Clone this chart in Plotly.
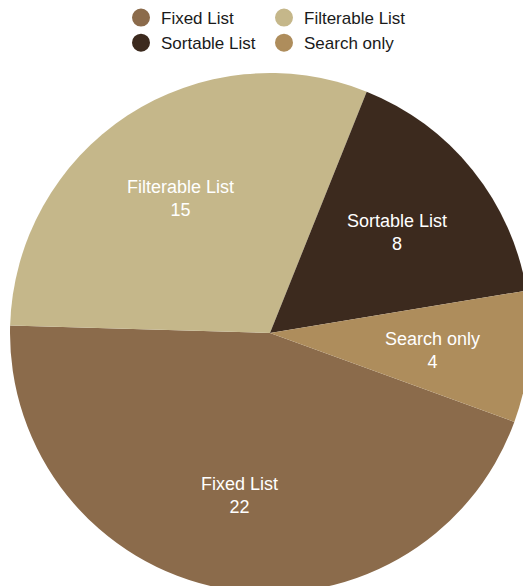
import math
import plotly.graph_objects as go

categories = ["Fixed List", "Filterable List", "Sortable List", "Search only"]
values = [22, 15, 8, 4]
colors = ["#8B6B4B", "#C5B78A", "#3C2A1E", "#AE8D5C"]
legend_groups = ["legend", "legend2", "legend", "legend2"]

FONT = "Liberation Sans, Arial, Helvetica, sans-serif"
ROTATION = 110          # start angle of first slice, clockwise from 12 o'clock
LABEL_RADIUS = 0.627    # fraction of pie radius where slice labels sit

fig = go.Figure()
fig.add_trace(go.Pie(
    labels=categories,
    values=values,
    sort=False,
    direction="clockwise",
    rotation=ROTATION,
    marker=dict(colors=colors, line=dict(width=0)),
    textinfo="none",
    showlegend=False,
    hoverinfo="label+value",
    domain=dict(x=[0, 1], y=[0, 1]),
))

for name, col, lg in zip(categories, colors, legend_groups):
    fig.add_trace(go.Scatter(
        x=[None], y=[None], mode="markers", name=name,
        marker=dict(color=col, size=16, symbol="circle", line=dict(color=col, width=2)),
        legend=lg, showlegend=True, hoverinfo="skip",
    ))

EXTRA = 20  # extra top room so the legend never forces a margin push; page is scrolled by this much
W, H = 540, 600 + EXTRA
ml, mr, mt, mb = 10, 10, 73 + EXTRA, 7
pw, ph = W - ml - mr, H - mt - mb

def px_to_paper_x(px):
    return (px - ml) / pw

def px_to_paper_y(py):
    return (H - mb - (py + EXTRA)) / ph

# slice labels placed along each slice's mid-angle, derived from the values
total = sum(values)
annotations = []
cum = 0
r_px = min(pw, ph) / 2
for name, v in zip(categories, values):
    mid = math.radians(ROTATION + (cum + v / 2) / total * 360)
    cum += v
    dx = LABEL_RADIUS * r_px * math.sin(mid) / pw
    dy = LABEL_RADIUS * r_px * math.cos(mid) / ph
    annotations.append(dict(
        x=0.5 + dx, y=0.5 + dy, xref="paper", yref="paper",
        text=f"{name}<br>{v}", showarrow=False,
        xanchor="center", yanchor="middle", yshift=-2,
        font=dict(color="white", size=18, family=FONT),
    ))

legend_common = dict(
    orientation="v", xanchor="left", yanchor="top",
    font=dict(size=17, family=FONT, color="#1a1a1a"),
    bgcolor="rgba(0,0,0,0)", borderwidth=0, itemclick=False, itemdoubleclick=False,
)

fig.update_layout(
    width=W, height=H,
    margin=dict(l=ml, r=mr, t=mt, b=mb),
    paper_bgcolor="white", plot_bgcolor="white",
    xaxis=dict(visible=False), yaxis=dict(visible=False),
    legend=dict(x=px_to_paper_x(121), y=px_to_paper_y(0), **legend_common),
    legend2=dict(x=px_to_paper_x(264), y=px_to_paper_y(0), **legend_common),
    annotations=annotations,
)

fig.write_html(
    "out.html",
    config={"displayModeBar": False},
    post_script=(
        "document.body.style.margin='0';"
        "document.body.style.overflow='hidden';"
        "document.documentElement.style.overflow='hidden';"
        f"document.querySelectorAll('.plotly-graph-div').forEach(function(d){{d.style.marginTop='-{EXTRA}px';}});"
    ),
)
